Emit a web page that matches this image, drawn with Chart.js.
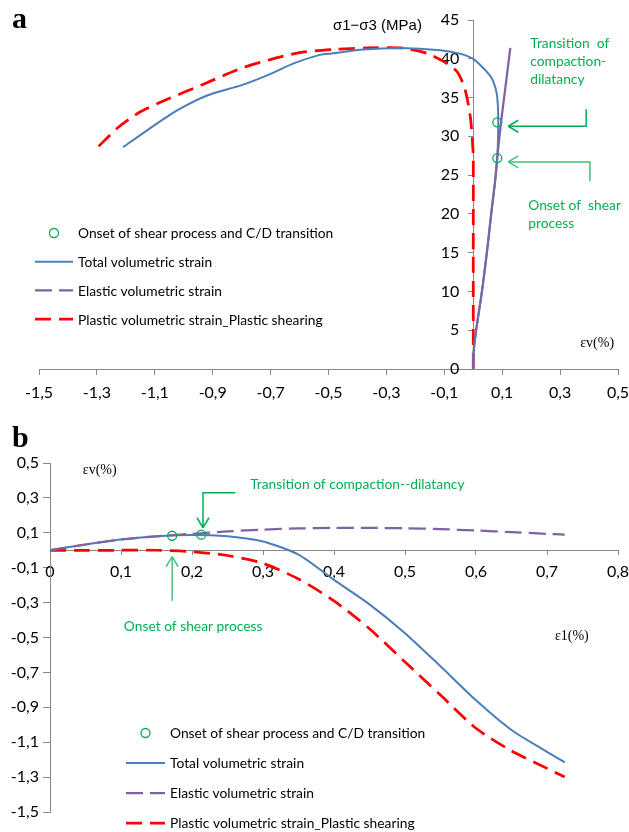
<!DOCTYPE html>
<html>
<head>
<meta charset="utf-8">
<script src="https://cdn.jsdelivr.net/npm/chart.js@4/dist/chart.umd.min.js"></script>
<style>
  html, body { margin: 0; padding: 0; background: #fff; }
  #wrap { position: relative; width: 629px; height: 832px; }
  canvas { position: absolute; left: 0; }
  #chart-a { top: 0; }
  #chart-b { top: 410px; }
</style>
</head>
<body>
<div id="wrap">
  <canvas id="chart-a" width="629" height="410"></canvas>
  <canvas id="chart-b" width="629" height="422"></canvas>
</div>
<script>
// ---- panel a: (sigma1 - sigma3) vs volumetric strain
const aTicksX = ['-1,5', '-1,3', '-1,1', '-0,9', '-0,7', '-0,5', '-0,3', '-0,1', '0,1', '0,3', '0,5'];
const aTicksY = ['0', '5', '10', '15', '20', '25', '30', '35', '40', '45'];

const aTotalEv = [0, 0, 0.002, 0.01, 0.03, 0.047, 0.062, 0.076, 0.083, 0.086, 0.086, 0.083, 0.077, 0.064, 0.045, 0.024, 0, -0.04, -0.114, -0.25, -0.38, -0.483, -0.53, -0.62, -0.71, -0.80, -0.917, -1.02, -1.114, -1.21];
const aTotalQ  = [0, 1.5, 2.5, 5, 10, 15, 20, 24.4, 27.3, 30.4, 33, 35, 36.2, 37.5, 38.4, 39.2, 40, 40.6, 41.1, 41.4, 41.2, 40.7, 40.5, 39.4, 37.9, 36.6, 35.3, 33.4, 31.1, 28.6];

const aElasticEv = [0, 0.002, 0.01, 0.03, 0.047, 0.062, 0.076, 0.083, 0.096, 0.11, 0.128];
const aElasticQ  = [0, 2.5, 5, 10, 15, 20, 24.4, 27.3, 31.8, 36, 41.4];

const aPlasticEv = [0, 0, 0, -0.003, -0.01, -0.028, -0.055, -0.1, -0.16, -0.25, -0.366, -0.48, -0.6, -0.71, -0.80, -0.94, -1.055, -1.148, -1.228, -1.297];
const aPlasticQ  = [0, 15, 27.3, 29.5, 32.5, 36, 38.3, 39.6, 40.7, 41.4, 41.4, 41.2, 40.8, 39.8, 38.8, 36.6, 34.8, 33.2, 31.1, 28.6];

const aOnsetEv = [0.083, 0.083];
const aOnsetQ  = [27.2, 31.8];

// ---- panel b: volumetric strain vs axial strain
const bTicksX = ['0', '0,1', '0,2', '0,3', '0,4', '0,5', '0,6', '0,7', '0,8'];
const bTicksY = ['-1,5', '-1,3', '-1,1', '-0,9', '-0,7', '-0,5', '-0,3', '-0,1', '0,1', '0,3', '0,5'];

const bEps1      = [0, 0.05, 0.1, 0.15, 0.2, 0.25, 0.3, 0.35, 0.4, 0.45, 0.5, 0.55, 0.6, 0.65, 0.7, 0.725];
const bTotalEv   = [0, 0.033, 0.062, 0.08, 0.088, 0.08, 0.05, -0.025, -0.17, -0.31, -0.475, -0.665, -0.86, -1.03, -1.155, -1.215];
const bElasticEv = [0, 0.033, 0.062, 0.08, 0.094, 0.108, 0.118, 0.125, 0.128, 0.128, 0.126, 0.121, 0.113, 0.104, 0.094, 0.09];
const bPlasticEv = [0, 0, 0, 0, -0.008, -0.03, -0.075, -0.165, -0.29, -0.45, -0.64, -0.83, -1.02, -1.15, -1.25, -1.30];

const bOnsetEps1 = [0.172, 0.213];
const bOnsetEv   = [0.083, 0.089];

const legendLabels = [
  'Onset of shear process and C/D transition',
  'Total volumetric strain',
  'Elastic volumetric strain',
  'Plastic volumetric strain_Plastic shearing',
];

const BLUE = '#4a7ebb';
const PURPLE = '#7f63a1';
const RED = '#ff0000';
const GREEN = '#00b050';
const GREEN2 = '#3cc47a';
const AXIS = '#888888';
const SANS = 'Lato, "Open Sans", sans-serif';
const SERIF = '"Liberation Serif", "DejaVu Serif", serif';
const NOTE = `13.8px ${SANS}`;

const num = t => parseFloat(t.replace(',', '.'));
const pts = (xs, ys) => xs.map((x, i) => ({ x, y: ys[i] }));
const labelFor = list => v => list.find(t => Math.abs(num(t) - v) < 1e-9) ?? '';

// line styles, shared by datasets and the hand-drawn legend
const styles = [
  { kind: 'point', color: GREEN },
  { kind: 'line', color: BLUE, width: 2, dash: [] },
  { kind: 'line', color: PURPLE, width: 2.25, dash: [17, 7] },
  { kind: 'line', color: RED, width: 2.75, dash: [16, 8] },
];

function datasets(onset, total, elastic, plastic, elasticDash) {
  const line = (s, data, dash) => ({
    data, showLine: true, borderColor: s.color, borderWidth: s.width,
    borderDash: dash || s.dash, pointRadius: 0, tension: 0.25, fill: false,
  });
  return [
    { data: onset, showLine: false, pointRadius: 4.5, pointBorderWidth: 1.3,
      pointBorderColor: GREEN, pointBackgroundColor: 'rgba(0,0,0,0)' },
    line(styles[2], elastic, elasticDash),
    line(styles[1], total),
    line(styles[3], plastic),
  ];
}

function axis(ticks, min, max, pos, o) {
  return {
    type: 'linear', min, max, position: pos,
    afterBuildTicks: s => { s.ticks = ticks.map(t => ({ value: num(t) })); },
    // end labels may hang over the plot edges; keep the plot area fixed
    afterFit: s => { s.paddingLeft = 0; s.paddingRight = 0; },
    ticks: { display: o.show, callback: labelFor(ticks), color: '#000', font: { family: SANS, size: 16 },
      padding: o.pad, autoSkip: false, maxRotation: 0 },
    grid: { display: true, drawOnChartArea: false, drawTicks: true, tickLength: o.tl, color: AXIS },
    border: { display: true, color: AXIS, width: 1 },
  };
}

// y labels, arrows, notes and legend
const decor = {
  id: 'decor',
  beforeDatasetsDraw(chart, args, opts) {
    // y tick labels sit left of the axis, wherever the axis crosses
    const ctx = chart.ctx, sy = chart.scales.y;
    const ax = chart.scales.x.getPixelForValue(0);
    ctx.save();
    ctx.font = `16px ${SANS}`;
    ctx.fillStyle = '#000';
    ctx.textAlign = 'right';
    ctx.textBaseline = 'middle';
    sy.ticks.forEach(t => {
      ctx.fillText(opts.yLabel(t.value), ax - opts.yGap, sy.getPixelForValue(t.value));
    });
    ctx.restore();
  },
  afterDatasetsDraw(chart, args, opts) {
    const ctx = chart.ctx;
    const sx = chart.scales.x, sy = chart.scales.y;
    const X = v => sx.getPixelForValue(v), Y = v => sy.getPixelForValue(v);
    ctx.save();

    (opts.arrows || []).forEach(a => {
      const p = a.path.map(([x, y]) => [X(x), Y(y)]);
      ctx.strokeStyle = a.color;
      ctx.lineWidth = 1.5;
      ctx.setLineDash([]);
      ctx.beginPath();
      p.forEach(([x, y], i) => i ? ctx.lineTo(x, y) : ctx.moveTo(x, y));
      ctx.stroke();
      const [tx, ty] = p[p.length - 1], [fx, fy] = p[p.length - 2];
      const ang = Math.atan2(ty - fy, tx - fx);
      ctx.beginPath();
      [-1, 1].forEach(sg => {
        ctx.moveTo(tx, ty);
        ctx.lineTo(tx - 10 * Math.cos(ang) + sg * 6 * Math.sin(ang),
                   ty - 10 * Math.sin(ang) - sg * 6 * Math.cos(ang));
      });
      ctx.stroke();
    });

    (opts.notes || []).forEach(n => {
      ctx.font = n.font;
      ctx.fillStyle = n.color || '#000';
      ctx.textAlign = n.align || 'left';
      ctx.textBaseline = n.base || 'middle';
      const x = n.px !== undefined ? n.px : X(n.x);
      const y = n.py !== undefined ? n.py : Y(n.y);
      ctx.fillText(n.text, x, y);
    });

    const lg = opts.legend;
    if (lg) {
      ctx.font = NOTE;
      ctx.textAlign = 'left';
      ctx.textBaseline = 'middle';
      legendLabels.forEach((lab, i) => {
        const s = styles[i], y = lg.top + i * lg.gap;
        if (s.kind === 'point') {
          ctx.setLineDash([]);
          ctx.strokeStyle = s.color;
          ctx.lineWidth = 1.3;
          ctx.beginPath();
          ctx.arc(lg.left + lg.len / 2, y, 4.5, 0, Math.PI * 2);
          ctx.stroke();
        } else {
          ctx.strokeStyle = s.color;
          ctx.lineWidth = s.width;
          ctx.setLineDash(s.dash);
          ctx.beginPath();
          ctx.moveTo(lg.left, y);
          ctx.lineTo(lg.left + lg.len, y);
          ctx.stroke();
        }
        ctx.fillStyle = '#000';
        ctx.fillText(lab, lg.left + lg.len + 5, y + 1);
      });
    }
    ctx.restore();
  },
};

const common = {
  responsive: false,
  animation: false,
  devicePixelRatio: 1,
  plugins: { legend: { display: false }, tooltip: { enabled: false } },
};

new Chart(document.getElementById('chart-a'), {
  type: 'scatter',
  data: { datasets: datasets(pts(aOnsetEv, aOnsetQ), pts(aTotalEv, aTotalQ),
                             pts(aElasticEv, aElasticQ), pts(aPlasticEv, aPlasticQ), [1, 0]) },
  options: {
    ...common,
    layout: { padding: { left: 39, right: 11, top: 20, bottom: 41 } },
    scales: {
      x: axis(aTicksX, -1.5, 0.5, { y: 0 }, { tl: 5, pad: 9, show: true }),
      y: axis(aTicksY, 0, 45, { x: 0 }, { tl: 5, pad: 5, show: false }),
    },
    plugins: {
      ...common.plugins,
      decor: {
        yLabel: labelFor(aTicksY),
        yGap: 14,
        arrows: [
          { color: GREEN, path: [[0.39, 33.5], [0.39, 31.3], [0.121, 31.3]] },
          { color: GREEN2, path: [[0.403, 24.2], [0.403, 26.7], [0.121, 26.7]] },
        ],
        notes: [
          { text: 'a', px: 12, py: 28, font: `bold 30px ${SERIF}`, base: 'alphabetic' },
          { text: 'σ1−σ3 (MPa)', x: -0.331, y: 44.2, align: 'center', font: `15px "Liberation Sans", Arial, sans-serif` },
          { text: 'εv(%)', x: 0.428, y: 3.35, align: 'center', font: `14px ${SERIF}` },
          { text: 'Transition  of', x: 0.197, y: 42.0, color: GREEN, font: NOTE },
          { text: 'compaction-', x: 0.197, y: 39.6, color: GREEN, font: NOTE },
          { text: 'dilatancy', x: 0.197, y: 37.3, color: GREEN, font: NOTE },
          { text: 'Onset of  shear', x: 0.19, y: 21.1, color: GREEN, font: NOTE },
          { text: 'process', x: 0.19, y: 18.7, color: GREEN, font: NOTE },
        ],
        legend: { left: 35, top: 233, gap: 28.7, len: 38 },
      },
    },
  },
  plugins: [decor],
});

new Chart(document.getElementById('chart-b'), {
  type: 'scatter',
  data: { datasets: datasets(pts(bOnsetEps1, bOnsetEv), pts(bEps1, bTotalEv),
                             pts(bEps1, bElasticEv), pts(bEps1, bPlasticEv)) },
  options: {
    ...common,
    layout: { padding: { left: 50, right: 11, top: 53, bottom: 20 } },
    scales: {
      x: axis(bTicksX, 0, 0.8, { y: 0 }, { tl: 4, pad: 8, show: true }),
      y: axis(bTicksY, -1.5, 0.5, { x: 0 }, { tl: 7, pad: 6, show: false }),
    },
    plugins: {
      ...common.plugins,
      decor: {
        yLabel: labelFor(bTicksY),
        yGap: 11,
        arrows: [
          { color: GREEN, path: [[0.261, 0.329], [0.2155, 0.329], [0.2155, 0.129]] },
          { color: GREEN2, path: [[0.172, -0.29], [0.172, -0.037]] },
        ],
        notes: [
          { text: 'b', px: 12, py: 37, font: `bold 30px ${SERIF}`, base: 'alphabetic' },
          { text: 'εv(%)', x: 0.07, y: 0.46, align: 'center', font: `14px ${SERIF}` },
          { text: 'ε1(%)', x: 0.735, y: -0.494, align: 'center', font: `14px ${SERIF}` },
          { text: 'Transition of compaction--dilatancy', x: 0.282, y: 0.374, color: GREEN, font: NOTE },
          { text: 'Onset of shear process', x: 0.104, y: -0.437, color: GREEN, font: NOTE },
        ],
        legend: { left: 126, top: 323, gap: 30, len: 39 },
      },
    },
  },
  plugins: [decor],
});
</script>
</body>
</html>
